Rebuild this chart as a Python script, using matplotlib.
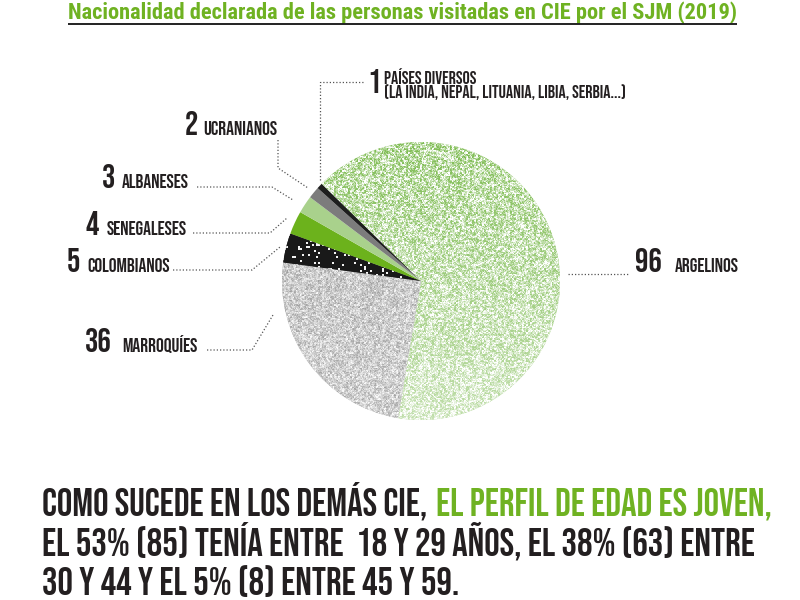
import numpy as np
import matplotlib
matplotlib.use("Agg")
import matplotlib.pyplot as plt
from matplotlib import font_manager as fm

# datos del grafico
nacionalidades = ["Argelinos", "Marroquíes", "Colombianos", "Senegaleses",
                  "Albaneses", "Ucranianos", "Países diversos"]
personas = [96, 36, 5, 4, 3, 2, 1]
etiquetas = ["ARGELINOS", "MARROQUÍES", "COLOMBIANOS", "SENEGALESES",
             "ALBANESES", "UCRANIANOS", "PAÍSES DIVERSOS"]
detalle_diversos = "(LA INDIA, NEPAL, LITUANIA, LIBIA, SERBIA...)"

titulo = "Nacionalidad declarada de las personas visitadas en CIE por el SJM (2019)"
texto_negro = "COMO SUCEDE EN LOS DEMÁS CIE,"
texto_verde = "EL PERFIL DE EDAD ES JOVEN,"
texto_lineas = ["EL 53% (85) TENÍA ENTRE  18 Y 29 AÑOS, EL 38% (63) ENTRE",
                "30 Y 44 Y EL 5% (8) ENTRE 45 Y 59."]

colores = ["#b9da9f", "#b8b8b8", "#1b1b1b", "#6cb21c", "#a9d18c", "#7c7c7c", "#1e1e1e"]
VERDE = "#6fb222"
OSCURO = "#231f20"

fonts = fm.fontManager.ttflist
available = {f.name for f in fonts}


def pick(*names):
    for n in names:
        if n in available:
            return n
    return "DejaVu Sans"


def pick_bold(*names):
    for n in names:
        if any(f.name == n and f.weight in (700, "bold") for f in fonts):
            return n
    return "DejaVu Sans"


CONDENSED = pick("Bebas Neue", "Oswald", "Anton", "League Gothic",
                 "Roboto Condensed", "Liberation Sans Narrow", "DejaVu Sans")
NARROW = pick_bold("Arial Narrow", "Liberation Sans Narrow", "Archivo Narrow",
                   "Roboto Condensed", "PT Sans Narrow", "Arimo", "Liberation Sans")

# layout: image pixel coords (x, y from top)
cx, cy, r = 421, 600 - 281, 139
# (x numero, x palabra, baseline y, puntos de la guia)
label_layout = [
    (635, 675, 272, [(568, 274), (628, 274)]),
    (85, 122, 352, [(207, 350), (252, 350), (273, 315)]),
    (67, 87, 272, [(173, 270), (252, 270), (280, 247)]),
    (85, 107, 235, [(193, 233), (270, 233), (287, 218)]),
    (102, 122, 188, [(197, 187), (272, 187), (293, 200)]),
    (185, 203, 135, [(278, 140), (278, 168), (308, 188)]),
    (367, 384, 93, [(363, 82), (320, 82), (320, 182)]),
]

fig = plt.figure(figsize=(8, 6), dpi=100)
ax = fig.add_axes([0, 0, 1, 1])

wedges, _ = ax.pie(personas, startangle=135.6, counterclock=False,
                   center=(cx, cy), radius=r, colors=colores,
                   wedgeprops=dict(linewidth=0))

# speckled textures for the big wedges
rng = np.random.default_rng(3)
n = 2 * r
ext = (cx - r, cx + r, cy - r, cy + r)
yy = np.linspace(0, 1, n)[:, None] * np.ones((1, n))   # 0 bottom, 1 top
fine = rng.random((n, n))
coarse = np.kron(rng.random((n // 2 + 1, n // 2 + 1)), np.ones((2, 2)))[:n, :n]
noise = 0.5 * fine + 0.5 * coarse

# argelinos: green specks over white, fading at the bottom
t = np.clip((noise - 0.2) * 1.7, 0, 1) * (0.5 + 0.5 * yy)
g = np.array([0.50, 0.74, 0.33])
img = 1 - t[..., None] * (1 - g)
im = ax.imshow(img, extent=ext, origin="lower", interpolation="nearest", zorder=2)
im.set_clip_path(wedges[0])

# marroquies: grey grain
v = 0.58 + 0.38 * noise + 0.06 * (1 - yy)
img = np.repeat(np.clip(v, 0, 1)[..., None], 3, axis=2)
im = ax.imshow(img, extent=ext, origin="lower", interpolation="nearest", zorder=2)
im.set_clip_path(wedges[1])

# colombianos: black with white specks
spk = np.kron(rng.random((n // 2 + 1, n // 2 + 1)), np.ones((2, 2)))[:n, :n]
v = np.where(spk > 0.9, 0.95, 0.1)
img = np.repeat(v[..., None], 3, axis=2)
im = ax.imshow(img, extent=ext, origin="lower", interpolation="nearest", zorder=2)
im.set_clip_path(wedges[2])

ax.set_xlim(0, 800)
ax.set_ylim(0, 600)
ax.set_aspect("auto")
ax.axis("off")

# labels and dotted leaders
for i, (xn, xw, yb, pts) in enumerate(label_layout):
    ax.text(xn, 600 - yb, str(personas[i]), fontsize=24, family=CONDENSED,
            color=OSCURO, ha="left", va="baseline", zorder=4)
    if i == 6:
        ax.text(xw, 600 - 84, etiquetas[i], fontsize=13, family=CONDENSED,
                color=OSCURO, ha="left", va="baseline", zorder=4)
        ax.text(xw, 600 - 98, detalle_diversos, fontsize=13, family=CONDENSED,
                color=OSCURO, ha="left", va="baseline", zorder=4)
    else:
        ax.text(xw, 600 - yb, etiquetas[i], fontsize=14, family=CONDENSED,
                color=OSCURO, ha="left", va="baseline", zorder=4)
    px = [p[0] for p in pts]
    py = [600 - p[1] for p in pts]
    ax.plot(px, py, color="#555555", lw=0.9, ls=(0, (1, 1.6)), zorder=3)
    ax.set_xlim(0, 800)
    ax.set_ylim(0, 600)

# title, fitted to its width in the reference and underlined
tt = ax.text(68, 600 - 19, titulo, fontsize=11, family=NARROW, weight="bold",
             color=VERDE, ha="left", va="baseline", zorder=4)
renderer = fig.canvas.get_renderer()
w = tt.get_window_extent(renderer=renderer).width
tt.set_fontsize(11 * 667 / w)
bb = tt.get_window_extent(renderer=renderer).transformed(ax.transData.inverted())
ax.plot([bb.x0, bb.x1], [600 - 24, 600 - 24], color="#222222", lw=1.4,
        zorder=5, solid_capstyle="butt")

# bottom paragraph, fitted so the second line has the reference width
size = 31
probe = ax.text(42, 600 - 555, texto_lineas[0], fontsize=size, family=CONDENSED,
                color=OSCURO, ha="left", va="baseline")
size = size * 710 / probe.get_window_extent(renderer=renderer).width
probe.set_fontsize(size)
ax.text(42, 600 - 595, texto_lineas[1], fontsize=size, family=CONDENSED,
        color=OSCURO, ha="left", va="baseline")
t1 = ax.text(42, 600 - 515, texto_negro, fontsize=size, family=CONDENSED,
             color=OSCURO, ha="left", va="baseline")
ax.annotate(texto_verde, xy=(1, 0), xycoords=t1, xytext=(6, 0),
            textcoords="offset points", fontsize=size, family=CONDENSED,
            color=VERDE, ha="left", va="bottom")

ax.set_xlim(0, 800)
ax.set_ylim(0, 600)
fig.savefig("out.png", dpi=100)
